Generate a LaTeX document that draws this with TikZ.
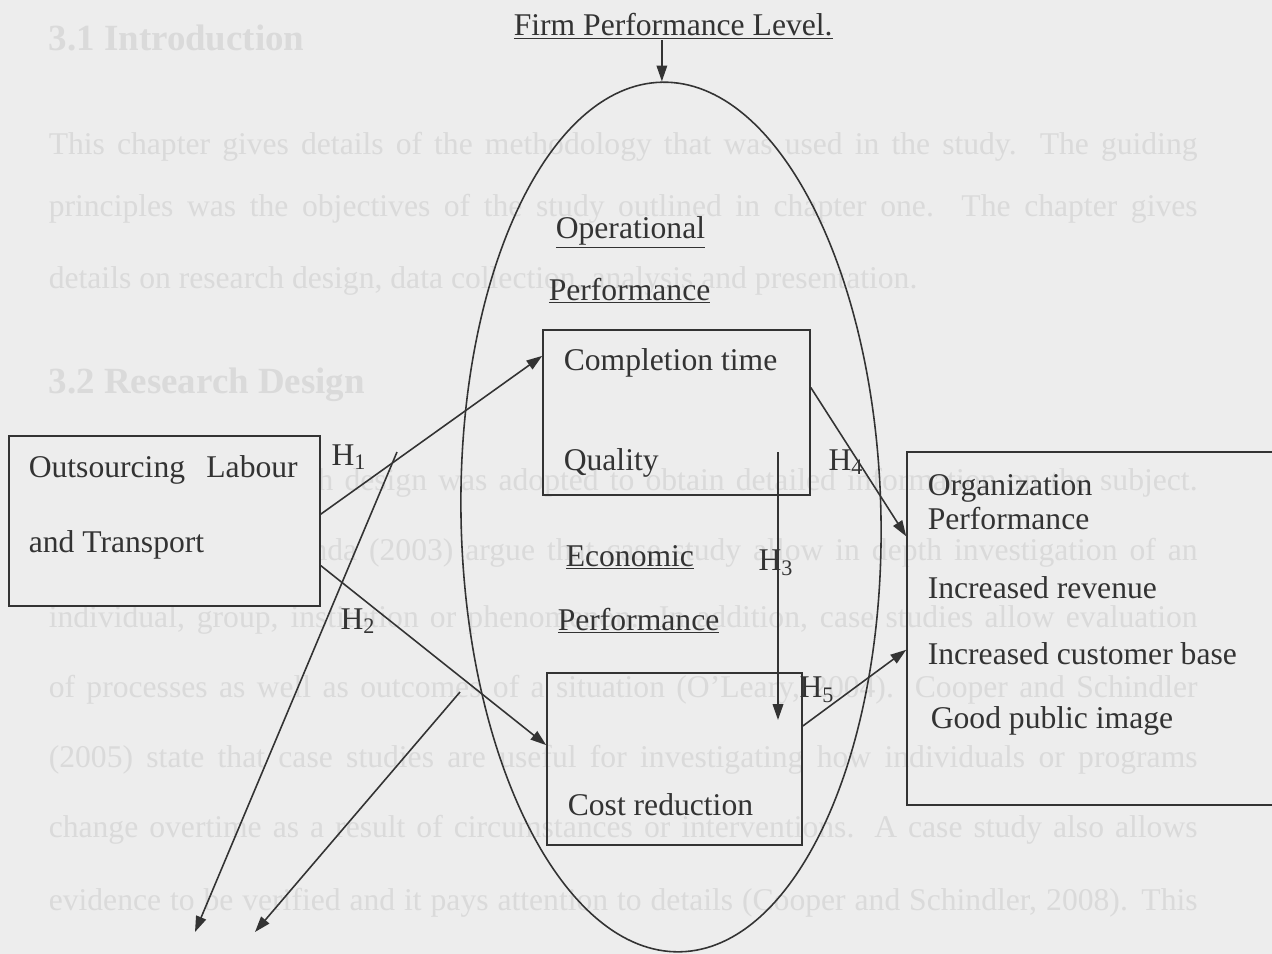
\documentclass[tikz,border=0pt]{standalone}
\usepackage{fontspec}
\setmainfont{Liberation Serif}
\usetikzlibrary{shapes.geometric,fit,calc,arrows.meta}

\definecolor{paper}{gray}{0.93}
\definecolor{ghost}{gray}{0.855}
\definecolor{ink}{gray}{0.2}

\def\linew{22.98cm}

\begin{document}
\begin{tikzpicture}[x=0.02cm,y=-0.02cm,line width=0.9pt,draw=ink,text=ink,>={Triangle[length=9pt,width=6pt]},font=\fontsize{18}{21}\selectfont]
    \tikzstyle{box}=[draw,rectangle,inner sep=0pt]
    \tikzstyle{lbl}=[anchor=base west,inner sep=0pt]
    \tikzstyle{hyp}=[inner sep=0pt]
    \tikzstyle{ghostline}=[anchor=base west,inner sep=0pt,text=ghost,font=\fontsize{18}{21}\selectfont]
    \tikzstyle{ghosthead}=[ghostline,font=\fontsize{21}{24}\selectfont\bfseries]

    \fill[paper] (0,0) rectangle (1272,954);
    \useasboundingbox (0,0) rectangle (1272,954);
    \clip (0,0) rectangle (1272,954);

    % page text underneath the figure
    \node[ghosthead] (sec1) at (48,50) {3.1 Introduction};
    \node[ghostline] (p1) at (48,154) {\makebox[\linew][s]{This chapter gives details of the methodology that was used in the study. The guiding}};
    \node[ghostline] (p2) at (48,216) {\makebox[\linew][s]{principles was the objectives of the study outlined in chapter one. The chapter gives}};
    \node[ghostline] (p3) at (48,288) {details on research design, data collection, analysis and presentation.};
    \node[ghosthead] (sec2) at (48,393) {3.2 Research Design};
    \node[ghostline] (p4) at (48,490) {\makebox[\linew][s]{A case study research design was adopted to obtain detailed information on the subject.}};
    \node[ghostline] (p5) at (48,560) {\makebox[\linew][s]{Mugenda and Mugenda (2003) argue that case study allow in depth investigation of an}};
    \node[ghostline] (p6) at (48,627) {\makebox[\linew][s]{individual, group, institution or phenomenon. In addition, case studies allow evaluation}};
    \node[ghostline] (p7) at (48,697) {\makebox[\linew][s]{of processes as well as outcomes of a situation (O'Leary, 2004). Cooper and Schindler}};
    \node[ghostline] (p8) at (48,767) {\makebox[\linew][s]{(2005) state that case studies are useful for investigating how individuals or programs}};
    \node[ghostline] (p9) at (48,837) {\makebox[\linew][s]{change overtime as a result of circumstances or interventions. A case study also allows}};
    \node[ghostline] (p10) at (48,910) {\makebox[\linew][s]{evidence to be verified and it pays attention to details (Cooper and Schindler, 2008). This}};

    % figure
    \node[lbl] (title) at (513,35) {\underline{Firm Performance Level.}};
    \node[ellipse,draw,minimum width=8.4cm,minimum height=17.4cm,inner sep=0pt,rotate=1.2] (ell) at (671,517) {};

    \node[box,fill=paper,fit={(9,436) (320,606)}] (src) {};
    \node[lbl] (src1) at (28,477) {\makebox[5.38cm][s]{Outsourcing Labour}};
    \node[lbl] (src2) at (28,552) {and Transport};

    \node[lbl] (oper1) at (555,238) {\underline{Operational}};
    \node[lbl] (oper2) at (548,300) {\underline{Performance}};
    \node[box,fit={(543,330) (810,495)}] (ops) {};
    \node[lbl] (ops1) at (563,370) {Completion time};
    \node[lbl] (ops2) at (563,470) {Quality};

    \node[lbl] (econ1) at (565,566) {\underline{Economic}};
    \node[lbl] (econ2) at (557,630) {\underline{Performance}};
    \node[box,fit={(547,673) (802,845)}] (eco) {};
    \node[lbl] (eco1) at (567,815) {Cost reduction};

    \node[box,fit={(907,452) (1320,805)}] (org) {};
    \node[lbl] (org1) at (927,495) {Organization};
    \node[lbl] (org2) at (927,529) {Performance};
    \node[lbl] (org3) at (927,598) {Increased revenue};
    \node[lbl] (org4) at (927,664) {Increased customer base};
    \node[lbl] (org5) at (930,728) {Good public image};

    \node[hyp] (h1) at (349,457) {H\textsubscript{1}};
    \node[hyp] (h2) at (358,621) {H\textsubscript{2}};
    \node[hyp] (h3) at (776,563) {H\textsubscript{3}};
    \node[hyp] (h4) at (846,462) {H\textsubscript{4}};
    \node[hyp] (h5) at (817,690) {H\textsubscript{5}};

    \coordinate (outA) at (397,452);
    \coordinate (endA) at (195,932);
    \coordinate (outB) at (460,692);
    \coordinate (endB) at (255,932);
    \coordinate (h3top) at (778,452);

    \draw[->] (title.south -| ell.north) -- (ell.north);
    \draw[->] ($(src.north east)!.46!(src.south east)$) -- ($(ops.north west)!.16!(ops.south west)$);
    \draw[->] ($(src.north east)!.76!(src.south east)$) -- ($(eco.north west)!.42!(eco.south west)$);
    \draw[->] (outA) -- (endA);
    \draw[->] (outB) -- (endB);
    \draw[->] (h3top) -- (h3top |- 0,720);
    \draw[->] ($(ops.north east)!.35!(ops.south east)$) -- ($(org.north west)!.24!(org.south west)$);
    \draw[->] ($(eco.north east)!.31!(eco.south east)$) -- ($(org.north west)!.56!(org.south west)$);
\end{tikzpicture}
\end{document}
